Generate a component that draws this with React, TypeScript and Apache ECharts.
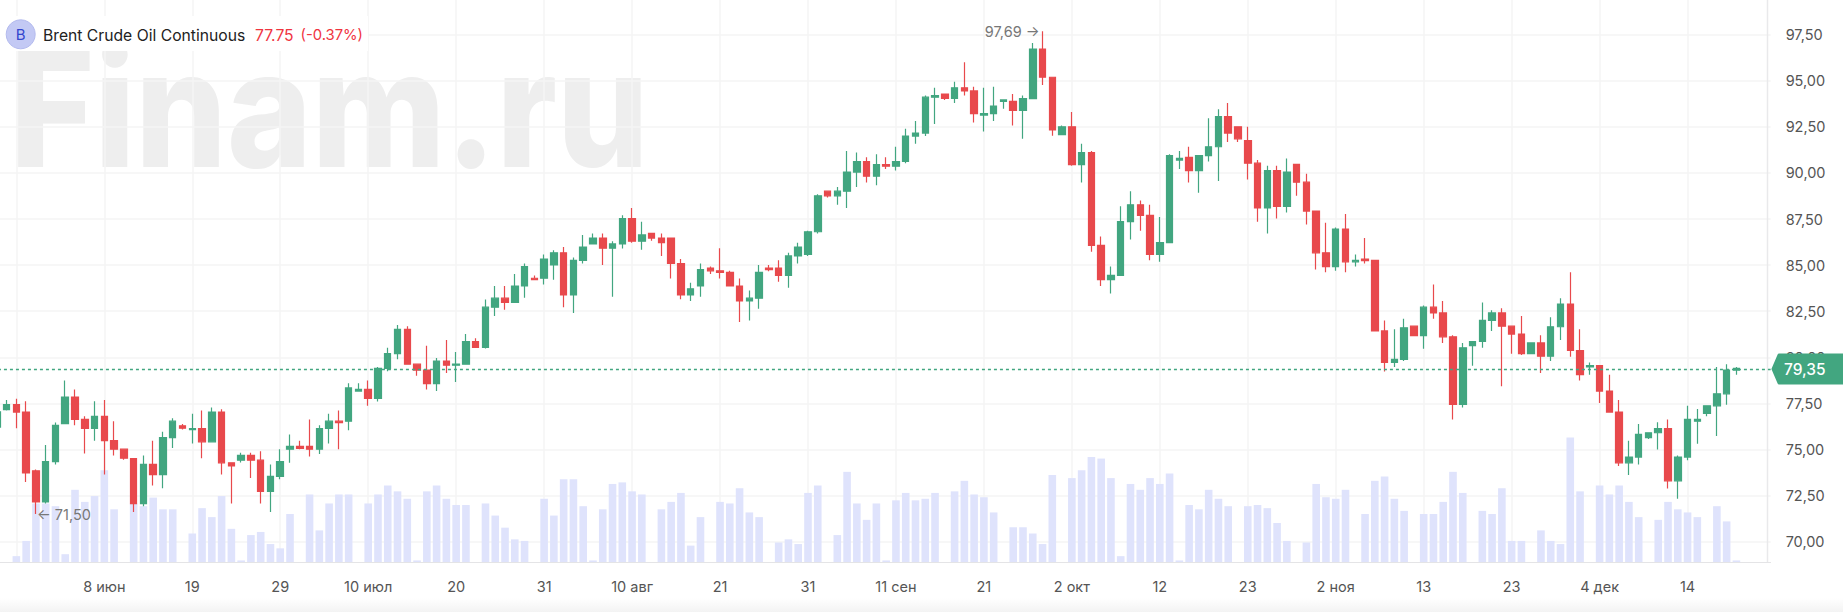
import React, { useEffect, useRef } from "react";
import * as echarts from "echarts";

const opens = [76.22,77.16,77.43,77.03,73.85,72.16,74.34,76.41,77.85,76.63,76.14,76.80,75.48,75.02,74.51,72.07,74.19,73.64,75.65,76.29,76.08,76.14,75.42,77.03,74.28,74.42,74.68,74.42,72.73,73.54,75.02,75.17,75.17,75.02,76.14,76.54,76.54,78.17,78.26,77.77,79.40,80.20,81.52,79.63,79.31,78.57,79.80,79.57,79.63,80.86,80.54,82.72,83.21,82.98,83.87,84.29,84.29,85.01,85.67,83.38,85.26,86.15,86.47,85.92,86.15,87.53,86.30,86.72,86.47,86.47,85.09,83.38,83.87,84.84,84.69,84.61,83.87,83.06,83.21,84.84,84.84,84.44,85.50,85.58,86.81,89.01,88.76,89.01,90.05,90.62,89.82,90.45,90.37,90.62,92.00,92.16,94.11,94.28,94.05,94.62,94.45,93.14,93.22,93.88,93.88,93.39,94.03,96.72,95.19,92.08,92.50,90.45,91.11,86.07,84.21,84.44,87.36,88.27,87.70,85.58,86.22,90.70,90.85,90.13,90.94,91.42,93.05,92.50,91.76,90.53,88.10,90.13,88.19,90.47,89.50,87.93,85.67,84.92,86.96,85.18,85.33,85.26,81.43,79.72,79.89,81.69,81.18,82.72,82.41,81.11,77.45,80.63,80.86,82.00,82.41,81.69,81.26,80.20,80.78,80.06,81.66,82.89,80.37,79.48,79.55,78.17,77.03,74.28,74.59,75.65,75.91,76.14,73.30,74.59,76.54,76.96,77.37,78.02,79.31];
const closes = [77.05,77.43,77.03,73.73,72.16,74.34,76.31,77.85,76.63,76.14,76.80,75.48,75.02,74.53,72.07,74.19,73.64,75.65,76.54,76.16,76.14,75.42,77.03,74.28,74.11,74.68,74.42,72.73,73.54,74.34,75.17,75.06,75.02,76.14,76.54,76.46,78.34,78.26,77.77,79.40,80.20,81.52,79.63,79.31,78.57,79.80,79.57,79.63,80.86,80.54,82.72,83.21,82.98,83.87,84.92,84.21,85.33,85.67,83.38,85.26,85.98,86.47,85.92,86.15,87.53,86.30,86.64,86.47,86.22,85.09,83.38,83.72,84.76,84.69,84.61,83.87,83.06,83.21,84.61,84.76,84.44,85.50,85.98,86.81,88.76,88.76,89.01,90.05,90.62,89.82,90.45,90.37,90.62,92.00,92.16,94.11,94.20,94.05,94.62,94.45,93.22,93.22,93.63,93.96,93.39,94.03,96.72,95.19,92.33,92.50,90.45,91.11,86.07,84.21,84.44,87.36,88.27,87.70,85.58,86.22,90.94,90.79,90.13,90.94,91.42,93.05,92.16,91.85,90.53,88.10,90.13,88.19,90.05,89.50,87.93,85.67,84.92,86.96,85.18,85.26,85.24,81.43,79.72,79.89,81.60,81.18,82.72,82.41,81.11,77.45,80.52,80.86,82.00,82.41,81.69,81.26,80.20,80.78,80.06,81.66,82.89,80.37,79.06,79.55,78.17,77.03,74.28,74.59,75.82,75.91,76.14,73.30,74.59,76.63,76.63,77.37,78.02,79.31,79.40];
const highs = [77.05,77.68,77.75,77.62,73.92,75.25,76.46,78.74,78.26,76.80,77.62,77.68,76.54,75.06,74.53,74.68,75.48,75.97,76.69,76.39,76.94,77.11,77.28,77.18,74.28,74.83,74.83,74.91,74.19,75.02,75.82,75.48,76.63,76.31,76.94,77.11,78.60,78.60,78.74,79.48,80.52,81.75,81.69,79.63,80.63,79.97,80.94,80.29,81.26,81.03,83.13,83.87,83.87,84.52,85.09,84.44,85.58,85.81,85.98,85.41,86.64,86.72,86.72,86.30,87.70,88.10,87.36,86.72,86.72,86.47,85.33,84.04,85.09,84.92,85.92,84.69,84.27,83.63,85.01,85.01,85.26,85.67,86.22,86.87,88.84,89.01,89.24,91.19,91.11,90.85,91.02,90.85,91.42,92.40,92.82,94.20,94.62,94.28,94.94,96.00,94.68,94.62,94.68,93.96,94.28,94.20,97.05,97.69,95.19,92.57,93.31,91.59,91.19,86.55,84.92,88.19,89.01,88.50,88.27,87.61,91.02,91.19,91.42,90.94,92.97,93.46,93.80,92.50,92.50,90.70,90.39,90.39,90.79,90.47,89.96,87.93,87.30,87.04,87.78,85.58,86.47,85.26,82.00,81.52,82.09,81.69,82.81,83.95,83.06,81.20,80.78,80.86,82.98,82.55,82.66,81.69,82.24,80.78,81.20,82.17,83.21,84.61,81.52,79.72,79.55,79.06,77.68,75.48,76.39,75.93,76.48,76.63,74.68,77.37,77.20,77.37,79.48,79.63,79.48];
const lows = [76.22,77.11,76.16,73.24,71.50,72.07,74.19,76.41,76.31,74.78,75.48,73.64,74.68,74.45,71.61,71.93,73.05,72.90,75.08,76.08,75.33,74.53,75.42,73.64,72.07,74.30,73.45,72.07,71.61,73.39,74.28,75.02,74.62,74.76,75.33,75.02,76.05,78.17,77.37,77.60,79.25,79.89,79.63,79.00,78.26,78.17,79.15,78.66,79.63,80.54,80.48,82.24,82.58,82.98,83.23,84.21,83.95,84.21,82.72,82.41,85.09,86.15,85.01,83.29,85.90,86.22,85.84,86.32,85.50,84.27,83.15,83.06,83.29,84.52,84.27,83.87,81.92,82.00,82.64,84.67,84.10,83.78,85.09,85.50,86.72,88.67,88.27,88.10,89.24,89.48,89.33,90.22,90.13,90.53,91.59,92.00,92.65,93.96,93.80,94.20,92.74,92.25,92.82,93.48,92.57,91.85,94.03,94.77,92.02,92.08,90.39,89.48,85.73,83.87,83.46,84.44,86.39,86.87,85.26,85.18,86.22,90.22,89.48,88.93,90.62,89.56,91.68,91.68,89.65,87.36,86.72,87.53,87.85,88.76,87.21,84.76,84.61,84.69,84.61,84.92,85.09,81.43,79.23,79.48,79.80,81.18,80.46,82.09,80.78,76.63,77.28,79.55,80.52,81.43,78.43,80.20,80.12,80.20,79.15,79.80,80.94,80.03,78.74,79.06,77.52,77.03,74.11,73.62,74.19,75.57,75.00,72.88,72.33,74.42,75.31,76.80,75.74,77.43,79.06];
const volumes = [0,0,15,54,150,150,143,20,185,154,169,235,135,0,150,143,165,135,135,0,73,138,115,169,85,4,69,77,46,35,123,0,173,81,150,173,173,0,150,173,196,181,162,4,181,196,162,146,146,0,150,119,88,58,54,0,162,119,212,212,143,4,135,200,204,181,173,0,135,154,177,42,115,0,154,150,189,127,115,0,50,58,46,177,196,0,69,231,150,108,150,4,158,177,158,162,177,0,181,208,173,166,127,0,89,89,73,46,223,0,215,235,269,265,215,15,200,185,215,200,227,4,146,135,185,162,143,0,143,146,138,100,54,0,50,200,166,162,185,0,123,208,219,162,131,0,123,123,154,231,177,0,131,123,189,54,54,0,81,54,46,319,181,0,196,173,196,154,115,0,108,154,135,127,115,0,143,104,4];

const gridTickIndexes = [2,11,20,29,38,47,56,65,74,83,92,101,110,119,128,137,146,155,164,173];
const tickLabels = ["","8 июн","19","29","10 июл","20","31","10 авг","21","31","11 сен","21","2 окт","12","23","2 ноя","13","23","4 дек","14"];
const priceTicks = [70,72.5,75,77.5,80,82.5,85,87.5,90,92.5,95,97.5];
const lastPrice = 79.35;
const lowPoint = { index: 4, value: 71.5 };
const highPoint = { index: 107, value: 97.69 };
const TOTAL_BANDS = 182;

const RED = "#e8494c";
const GREEN = "#42a680";
const FONT = "Inter";
const comma = (v: number) => v.toFixed(2).replace(".", ",");

export default function App() {
  const ref = useRef<HTMLDivElement>(null);
  useEffect(() => {
    const chart = echarts.init(ref.current!, undefined, { renderer: "svg" });
    const categories = Array.from({ length: TOTAL_BANDS }, (_, i) => String(i));
    const labelAt = new Map(gridTickIndexes.map((idx, i) => [idx, tickLabels[i]]));
    const pad = (a: number[]) => categories.map((_, i) => (i < a.length ? a[i] : null));
    const candles = categories.map((_, i) =>
      i < opens.length ? [opens[i], closes[i], lows[i], highs[i]] : ["-", "-", "-", "-"]
    );
    chart.setOption({
      animation: false,
      backgroundColor: "#ffffff",
      grid: { left: -8.06, top: 0, width: 9.773 * TOTAL_BANDS, height: 562, outerBoundsMode: "none" },
      xAxis: {
        type: "category",
        data: categories,
        boundaryGap: true,
        axisLine: { show: true, lineStyle: { color: "#e4e4e6", width: 1 } },
        axisTick: { show: false },
        axisLabel: {
          interval: (i: number) => labelAt.has(i) && labelAt.get(i) !== "",
          formatter: (_: string, i: number) => labelAt.get(i) ?? "",
          color: "#555555",
          fontFamily: FONT,
          fontSize: 14.5,
          margin: 17,
        },
        splitLine: {
          show: true,
          alignWithLabel: true,
          interval: (i: number) => labelAt.has(i),
          lineStyle: { color: "#f4f4f5", width: 1.5 },
        },
      },
      yAxis: [
        {
          type: "value",
          position: "right",
          min: 68.9,
          max: 99.38,
          axisLine: { show: false },
          axisTick: { show: false, customValues: priceTicks },
          axisLabel: {
            customValues: priceTicks,
            formatter: (v: number) => comma(v),
            color: "#555555",
            fontFamily: FONT,
            fontSize: 14.5,
            margin: 15,
          },
          splitLine: { show: true, lineStyle: { color: "#f4f4f5", width: 1.5 } },
        },
        { type: "value", min: 0, max: 1440, show: false, splitLine: { show: false } },
      ],
      series: [
        {
          type: "bar",
          yAxisIndex: 1,
          data: pad(volumes),
          barWidth: 7.6,
          itemStyle: { color: "#dfe3fc" },
          silent: true,
          z: 1,
        },
        {
          type: "candlestick",
          yAxisIndex: 0,
          data: candles,
          barWidth: 7,
          itemStyle: {
            color: GREEN,
            color0: RED,
            borderColor: GREEN,
            borderColor0: RED,
            borderWidth: 1.2,
          },
          z: 3,
          markLine: {
            silent: true,
            symbol: "none",
            animation: false,
            label: { show: false },
            lineStyle: { color: GREEN, type: [3, 3], width: 1.4 },
            data: [{ yAxis: lastPrice }],
          },
          markPoint: {
            silent: true,
            symbol: "circle",
            symbolSize: 0,
            animation: false,
            label: { show: true, color: "#777777", fontFamily: FONT, fontSize: 14.5 },
            data: [
              {
                coord: [lowPoint.index, lowPoint.value],
                label: { position: "right", distance: 1, formatter: "← " + comma(lowPoint.value) },
              },
              {
                coord: [highPoint.index, highPoint.value],
                label: { position: "left", distance: 3, formatter: comma(highPoint.value) + " →" },
              },
            ],
          },
        },
      ],
      graphic: [
        {
          type: "text",
          z: -1,
          x: 10,
          y: 189,
          scaleX: 0.885,
          style: {
            text: "Finam.ru",
            fontFamily: FONT,
            fontWeight: 800,
            fontSize: 163,
            fill: "#eeeeee",
            verticalAlign: "bottom",
          },
        },
        { type: "rect", z: 5, shape: { x: 0, y: 16, width: 368, height: 35 }, style: { fill: "#ffffff" } },
        {
          type: "circle",
          z: 6,
          shape: { cx: 20.7, cy: 34.3, r: 14.5 },
          style: { fill: "#c3c9f4", stroke: "#b3baee", lineWidth: 1 },
        },
        {
          type: "text",
          z: 7,
          x: 20.7,
          y: 34.5,
          style: { text: "B", fontFamily: FONT, fontSize: 15, fill: "#3346cf", align: "center", verticalAlign: "middle" },
        },
        {
          type: "text",
          z: 7,
          x: 43,
          y: 35,
          style: { text: "Brent Crude Oil Continuous", fontFamily: FONT, fontSize: 15.7, fill: "#222222", verticalAlign: "middle" },
        },
        {
          type: "text",
          z: 7,
          x: 255,
          y: 35,
          style: { text: "77.75", fontFamily: FONT, fontSize: 15.7, fill: "#f0353f", verticalAlign: "middle" },
        },
        {
          type: "text",
          z: 7,
          x: 300.5,
          y: 35,
          style: { text: "(-0.37%)", fontFamily: FONT, fontSize: 14.8, fill: "#f0353f", verticalAlign: "middle" },
        },
        {
          type: "line",
          z: 5,
          shape: { x1: 1767.5, y1: 0, x2: 1767.5, y2: 562 },
          style: { stroke: "#e9e9eb", lineWidth: 1.5 },
        },
        {
          type: "rect",
          z: 5,
          shape: { x: 0, y: 598, width: 1843, height: 14 },
          style: {
            fill: new echarts.graphic.LinearGradient(0, 0, 0, 1, [
              { offset: 0, color: "#ffffff" },
              { offset: 1, color: "#f3f3f3" },
            ]),
          },
        },
        {
          type: "polygon",
          z: 6,
          shape: { points: [[1773, 369], [1779, 355], [1843, 355], [1843, 383], [1779, 383]] },
          style: { fill: GREEN, stroke: GREEN, lineWidth: 3, lineJoin: "round" },
        },
        {
          type: "text",
          z: 7,
          x: 1784,
          y: 369.5,
          style: { text: comma(lastPrice), fontFamily: FONT, fontSize: 15.5, fontWeight: 500, fill: "#ffffff", verticalAlign: "middle" },
        },
      ],
    });
    return () => chart.dispose();
  }, []);
  return <div ref={ref} style={{ position: "absolute", left: 0, top: 0, width: 1843, height: 612 }} />;
}
